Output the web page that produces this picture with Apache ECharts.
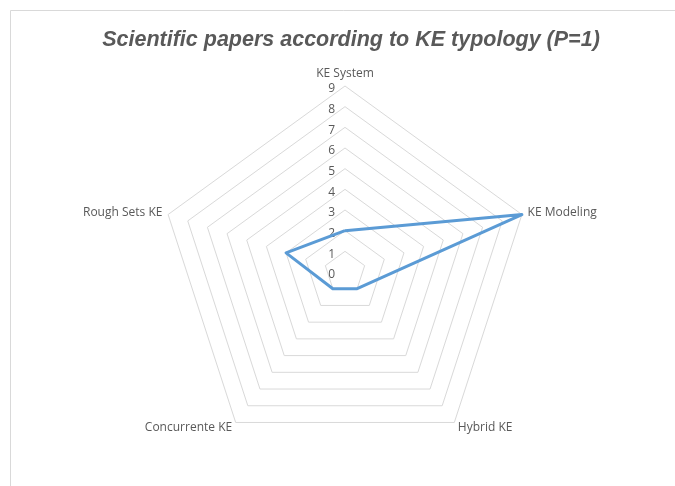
<!DOCTYPE html>
<html>
<head>
<meta charset="utf-8">
<script src="https://cdn.jsdelivr.net/npm/echarts@6/dist/echarts.min.js"></script>
<style>
  html, body { margin: 0; padding: 0; background: #fff; }
  #chart { width: 675px; height: 486px; }
</style>
</head>
<body>
<div id="chart"></div>
<script>
'use strict';

// data (clockwise from the top)
const categories = ['KE System', 'KE Modeling', 'Hybrid KE', 'Concurrente KE', 'Rough Sets KE'];
const papers = [2, 9, 1, 1, 3];
const tickLabels = ['0', '1', '2', '3', '4', '5', '6', '7', '8', '9'];

const maxValue = 9;
const center = [345, 272];
const radius = 186;
const textColor = '#595959';
const gridColor = '#d9d9d9';
const font = '"Open Sans", sans-serif';

// echarts radar runs counter-clockwise, so walk the lists backwards after the first
const order = [0].concat(categories.slice(1).map((c, i) => categories.length - 1 - i));

const chart = echarts.init(document.getElementById('chart'));

chart.setOption({
    animation: false,
    backgroundColor: '#fff',
    title: {
        text: 'Scientific papers according to KE typology (P=1)',
        left: 346,
        top: 24,
        textAlign: 'center',
        textStyle: {
            fontFamily: '"Liberation Sans", sans-serif',
            fontStyle: 'italic',
            fontWeight: 'bold',
            fontSize: 21.5,
            color: textColor,
        },
    },
    graphic: [{
        type: 'rect',
        shape: { x: 10.5, y: 10.5, width: 700, height: 500 },
        style: { fill: 'none', stroke: gridColor, lineWidth: 1 },
        silent: true,
    }],
    radar: {
        center: center,
        radius: radius,
        startAngle: 90,
        shape: 'polygon',
        splitNumber: maxValue,
        indicator: order.map(i => ({ name: categories[i], min: 0, max: maxValue })),
        axisName: {
            color: textColor,
            fontFamily: font,
            fontSize: 12,
        },
        nameGap: 6,
        axisLine: { show: false },
        axisTick: { show: false },
        axisLabel: { show: false },
        splitArea: { show: false },
        splitLine: { lineStyle: { color: gridColor, width: 1 } },
    },
    // polar only used to place the value labels on the top axis (sits a little low, like the original)
    polar: { center: [center[0], center[1] + 3], radius: radius },
    angleAxis: {
        startAngle: 90,
        show: false,
        min: 0,
        max: 360,
    },
    radiusAxis: {
        type: 'category',
        data: tickLabels,
        boundaryGap: false,
        axisLine: { show: false },
        axisTick: { show: false },
        splitLine: { show: false },
        axisLabel: {
            color: textColor,
            fontFamily: font,
            fontSize: 12,
            margin: 10,
        },
    },
    series: [{
        type: 'radar',
        symbol: 'none',
        lineStyle: { color: '#5b9bd5', width: 3 },
        data: [{ value: order.map(i => papers[i]), name: 'Papers' }],
    }],
});
</script>
</body>
</html>
